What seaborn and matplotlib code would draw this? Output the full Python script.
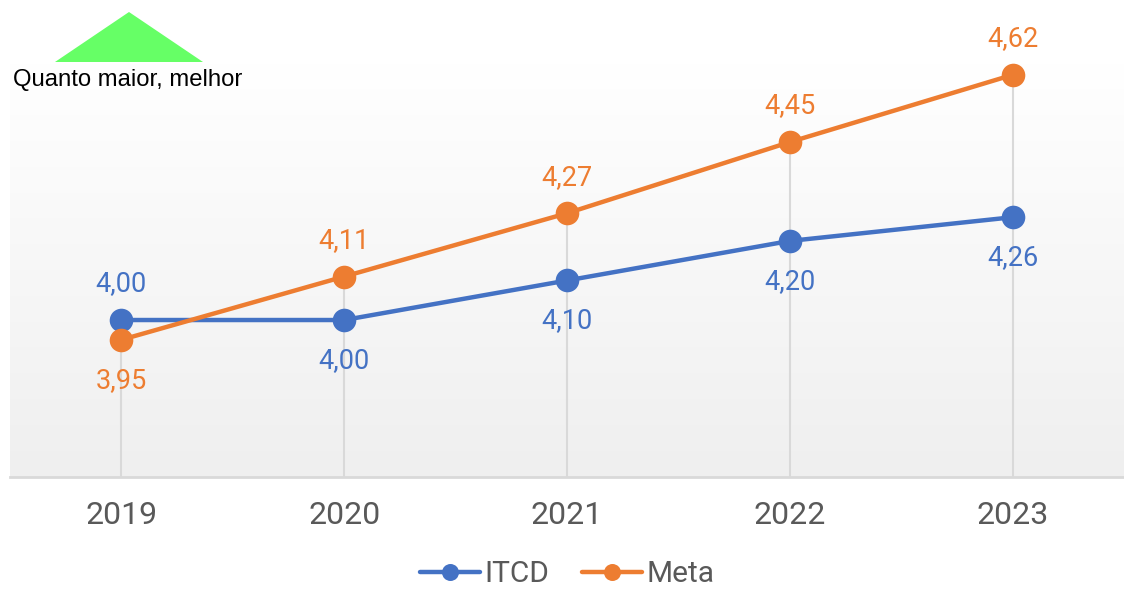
import numpy as np
import pandas as pd
import matplotlib
matplotlib.use("Agg")
import matplotlib.pyplot as plt
from matplotlib.patches import Polygon
import seaborn as sns

years = [2019, 2020, 2021, 2022, 2023]
itcd = [4.00, 4.00, 4.10, 4.20, 4.26]
meta = [3.95, 4.11, 4.27, 4.45, 4.62]
colors = {"ITCD": "#4472C4", "Meta": "#ED7D31"}

df = pd.DataFrame({
    "ano": years * 2,
    "valor": itcd + meta,
    "serie": ["ITCD"] * len(years) + ["Meta"] * len(years),
})

sns.set_style("white")
plt.rcParams["font.family"] = ["Roboto", "DejaVu Sans"]

fig = plt.figure(figsize=(11.24, 5.9), dpi=100)
ax = fig.add_axes([10 / 1124, 113 / 590, 1114 / 1124, 414 / 590])
ax.set_xlim(2018.5, 2023.5)
ax.set_ylim(3.603, 4.65)

# gradient background
grad = np.linspace(0, 1, 256).reshape(-1, 1)
cmap = matplotlib.colors.LinearSegmentedColormap.from_list("g", ["#efefef", "#ffffff"])
ax.imshow(grad, extent=[2018.5, 2023.5, 3.603, 4.65], aspect="auto",
          cmap=cmap, origin="lower", zorder=0)

# drop lines up to the top point of each year
tops = [max(a, b) for a, b in zip(itcd, meta)]
ax.vlines(years, 3.603, tops, color="#d9d9d9", lw=1.5, zorder=1)

sns.lineplot(data=df, x="ano", y="valor", hue="serie", palette=colors,
             marker="o", markersize=17, markeredgewidth=0, lw=3.2,
             ax=ax, zorder=3, legend=True)


def lab(v, y, col, up):
    ax.annotate(f"{v:.2f}".replace(".", ","), (y, v),
                xytext=(0, 26 if up else -29), textcoords="offset points",
                ha="center", va="center", color=col, fontsize=19.5)


# data labels
for i, y in enumerate(years):
    a, b = itcd[i], meta[i]
    lab(a, y, colors["ITCD"], a >= b)
    lab(b, y, colors["Meta"], b > a)

ax.set_xticks(years)
ax.set_xticklabels([str(y) for y in years], fontsize=23, color="#595959")
ax.tick_params(axis="x", length=0, pad=17)
ax.set_yticks([])
ax.set_xlabel("")
ax.set_ylabel("")
for side in ["top", "left", "right"]:
    ax.spines[side].set_visible(False)
ax.spines["bottom"].set_color("#d9d9d9")
ax.spines["bottom"].set_linewidth(2)

handles, labels = ax.get_legend_handles_labels()
ax.legend(handles, labels, loc="center", bbox_to_anchor=(0.5, -0.235), ncol=2,
          frameon=False, fontsize=21.5, handlelength=2.0, handletextpad=0.15,
          columnspacing=1.1, labelcolor="#595959", markerscale=0.72,
          borderpad=0.1)

# indicator
tri = Polygon([[55, 590 - 62], [129, 590 - 12], [203, 590 - 62]], closed=True,
              transform=None, facecolor="#66ff66", edgecolor="none")
fig.patches.append(tri)
fig.text(13 / 1124, 1 - 80 / 590, "Quanto maior, melhor", fontsize=17.2,
         family=["Liberation Sans", "DejaVu Sans"], va="center", ha="left", color="black")

fig.savefig("out.png", dpi=100)
